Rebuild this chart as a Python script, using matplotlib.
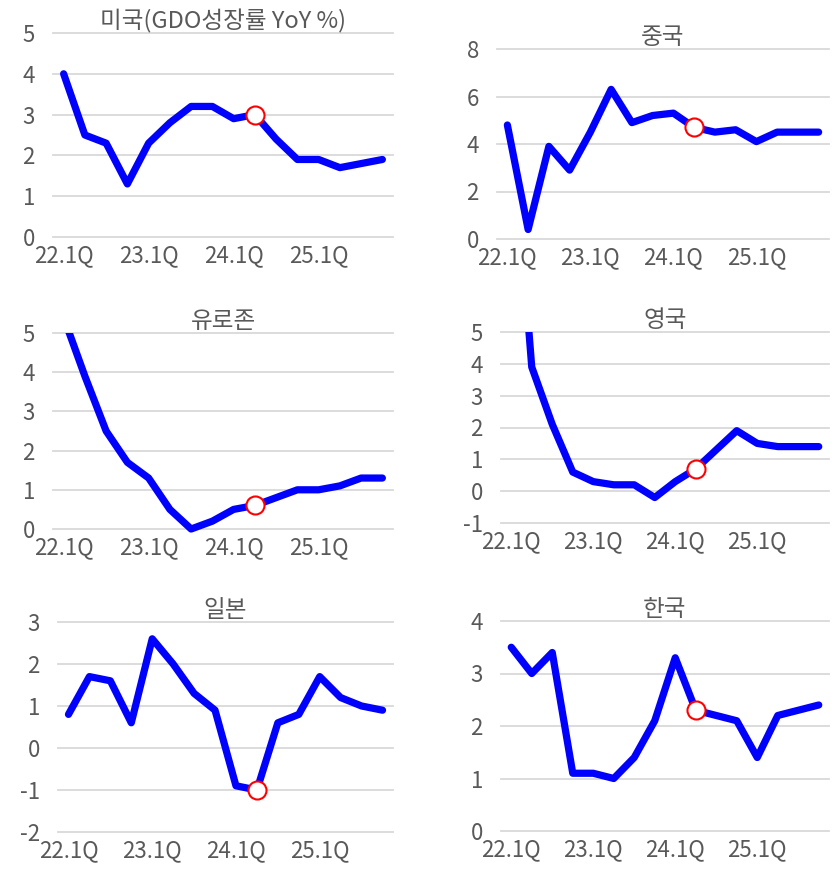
import matplotlib
matplotlib.use("Agg")
import matplotlib.pyplot as plt
from matplotlib.patches import Rectangle

plt.rcParams['font.family'] = ['Noto Sans CJK KR', 'DejaVu Sans']
plt.rcParams['axes.unicode_minus'] = False

# quarters 22.1Q .. 25.4Q
quarters = [f"{y}.{q}Q" for y in range(22, 26) for q in range(1, 5)]
tick_idx = [0, 4, 8, 12]
mark_idx = 9  # 24.2Q

us = [4.0, 2.5, 2.3, 1.3, 2.3, 2.8, 3.2, 3.2, 2.9, 3.0, 2.4, 1.9, 1.9, 1.7, 1.8, 1.9]
china = [4.8, 0.4, 3.9, 2.9, 4.5, 6.3, 4.9, 5.2, 5.3, 4.7, 4.5, 4.6, 4.1, 4.5, 4.5, 4.5]
euro = [5.4, 3.9, 2.5, 1.7, 1.3, 0.5, 0.0, 0.2, 0.5, 0.6, 0.8, 1.0, 1.0, 1.1, 1.3, 1.3]
uk = [12.0, 3.9, 2.1, 0.6, 0.3, 0.2, 0.2, -0.2, 0.3, 0.7, 1.3, 1.9, 1.5, 1.4, 1.4, 1.4]
japan = [0.8, 1.7, 1.6, 0.6, 2.6, 2.0, 1.3, 0.9, -0.9, -1.0, 0.6, 0.8, 1.7, 1.2, 1.0, 0.9]
korea = [3.5, 3.0, 3.4, 1.1, 1.1, 1.0, 1.4, 2.1, 3.3, 2.3, 2.2, 2.1, 1.4, 2.2, 2.3, 2.4]

titles = ['미국(GDO성장률 YoY %)', '중국', '유로존', '영국', '일본', '한국']
series = [us, china, euro, uk, japan, korea]
yticks = [range(0, 6), range(0, 9, 2), range(0, 6), range(-1, 6), range(-2, 4), range(0, 5)]

W, H = 832, 873
# panel boxes in pixels: left, right, top, bottom
boxes = [(53, 393, 33, 237), (497, 829, 49, 239),
         (53, 393, 333, 529), (501, 829, 332, 523),
         (58, 393, 622, 832), (501, 829, 621, 831)]
title_pad = [2, -1, -1, -1, 0, 0]

fig = plt.figure(figsize=(W / 100, H / 100), dpi=100)
gray = '#595959'

for (l, r, t, b), vals, title, yt, tp in zip(boxes, series, titles, yticks, title_pad):
    ax = fig.add_axes([l / W, 1 - b / H, (r - l) / W, (b - t) / H])
    x = list(range(len(vals)))
    line, = ax.plot(x, vals, color='#0000FF', lw=5.2, solid_joinstyle='round',
                    solid_capstyle='round', zorder=3)
    # clip at the top of the plot area only
    line.set_clip_path(Rectangle((0, -0.2), 1, 1.2, transform=ax.transAxes))
    ax.plot([mark_idx], [vals[mark_idx]], 'o', ms=13, mfc='white', mec='#FF0000',
            mew=1.5, zorder=4, clip_on=False)
    yt = list(yt)
    ax.set_ylim(yt[0], yt[-1])
    ax.set_xlim(-0.5, len(vals) - 0.5)
    ax.set_yticks(yt)
    ax.set_xticks(tick_idx)
    ax.set_xticklabels([quarters[i] for i in tick_idx])
    for y in yt:
        ax.axhline(y, color='#D9D9D9', lw=1.3, zorder=1, clip_on=False)
    for s in ax.spines.values():
        s.set_visible(False)
    ax.tick_params(axis='both', length=0, labelsize=16, colors=gray)
    ax.tick_params(axis='y', pad=13)
    ax.tick_params(axis='x', pad=5)
    ax.set_title(title, fontsize=17, color=gray, pad=tp)

fig.savefig('out.png', dpi=100)
